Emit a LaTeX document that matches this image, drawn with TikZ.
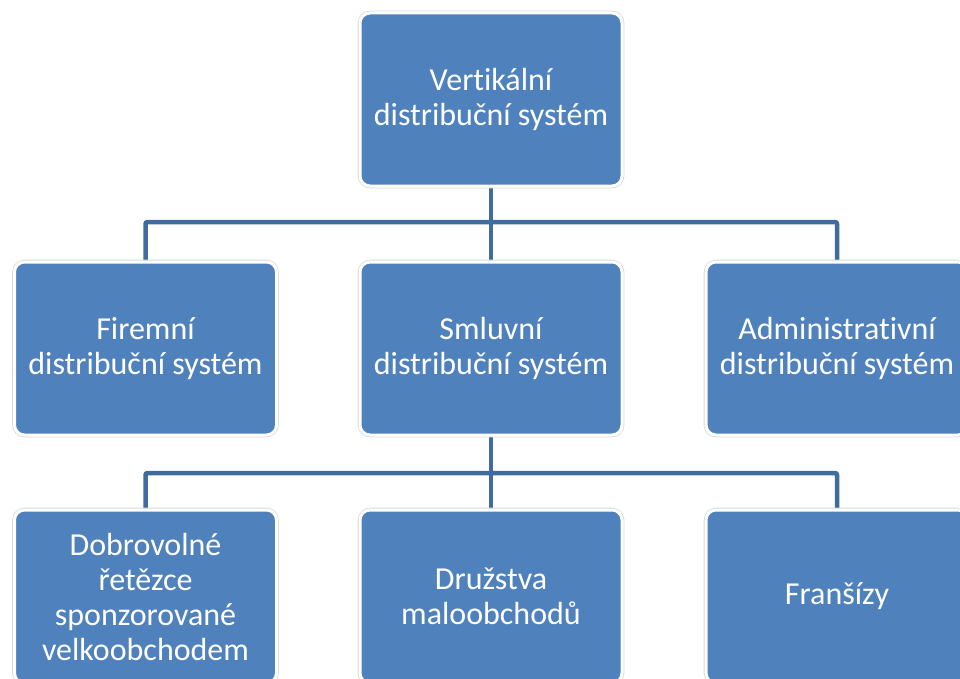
\documentclass[tikz,border=0pt]{standalone}
\usepackage{fontspec}
\setmainfont[Ligatures=NoCommon]{Carlito}
\usetikzlibrary{backgrounds}
\definecolor{boxblue}{HTML}{4F81BD}
\definecolor{linkblue}{HTML}{3F6B9E}
\definecolor{rimgray}{HTML}{D4D8DE}
\tikzset{
  unitbox/.style={
    rectangle, rounded corners=10pt, fill=boxblue, draw=white, line width=3pt,
    preaction={draw=rimgray, line width=4.6pt},
    minimum width=262pt, minimum height=173pt, inner sep=0pt, outer sep=0pt,
    text=white, align=center, font=\fontsize{32}{35}\selectfont},
  link/.style={draw=linkblue, line width=4.5pt, rounded corners=2pt}
}
\begin{document}
\begin{tikzpicture}[x=1pt,y=-1pt]
  \useasboundingbox (0,0) rectangle (960,679);
  % top level
  \node[unitbox] (vds) at (491,99.5) {Vertikální\\distribuční systém};
  % second level
  \node[unitbox] (firm) at (145.5,348.5) {Firemní\\distribuční systém};
  \node[unitbox] (smlu) at (491,348.5) {Smluvní\\distribuční systém};
  \node[unitbox] (admin) at (837,348.5) {Administrativní\\distribuční systém};
  % third level
  \node[unitbox] (dobr) at (145.5,596.5) {Dobrovolné\\řetězce\\sponzorované\\velkoobchodem};
  \node[unitbox] (druz) at (491,596.5) {Družstva\\maloobchodů};
  \node[unitbox] (fran) at (837,596.5) {Franšízy};
  % junction points of the connector bars
  \coordinate (bus1) at (491,222);
  \coordinate (bus2) at (491,473);
  \begin{scope}[on background layer]
    \draw[link] (vds.south) -- (bus1);
    \draw[link] (firm.north) |- (bus1) -| (admin.north);
    \draw[link] (bus1) -- (smlu.north);
    \draw[link] (smlu.south) -- (bus2);
    \draw[link] (dobr.north) |- (bus2) -| (fran.north);
    \draw[link] (bus2) -- (druz.north);
  \end{scope}
\end{tikzpicture}
\end{document}
